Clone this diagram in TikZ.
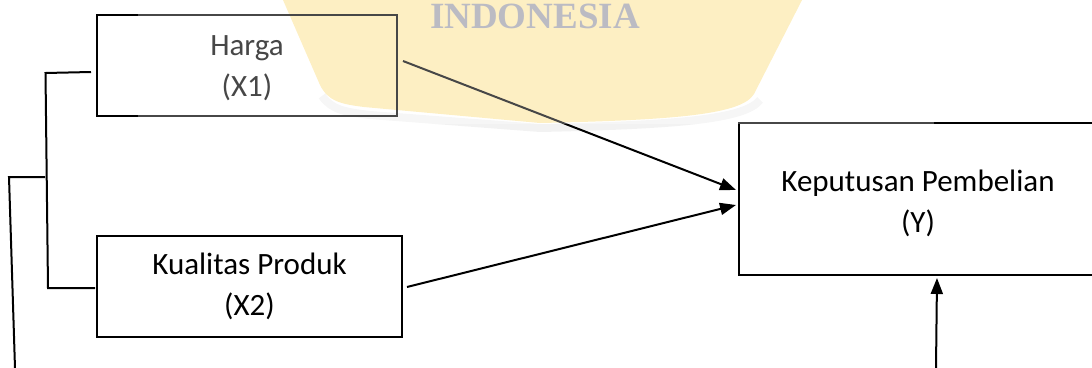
\documentclass[tikz,border=0pt]{standalone}
\usepackage{fontspec}
\setmainfont{Carlito}
\newfontfamily\wmfont{Liberation Serif}
\usetikzlibrary{arrows.meta,calc}
\definecolor{wmyellow}{RGB}{253,233,172}
\definecolor{wmgray}{RGB}{162,162,172}
\definecolor{wmshadow}{RGB}{150,150,150}
\begin{document}
\begin{tikzpicture}[x=1pt,y=-1pt,
  box/.style={draw=black,line width=2pt,align=center,inner sep=0pt,
    font=\fontsize{31}{41}\selectfont},
  conn/.style={line width=2pt,line join=miter},
  arr/.style={conn,-{Triangle[length=16pt,width=12pt]}},
  overlay/.style={fill=white,opacity=0.28},
]
\useasboundingbox (0,0) rectangle (1092,367);
\clip (0,0) rectangle (1092,367);
% watermark (background part)
\draw[wmshadow,opacity=0.12,line width=8pt]
  (322,96) .. controls (332,110) and (345,112) .. (370,115)
  -- (540,128) .. controls (680,125) and (745,119) .. (760,100);
\fill[wmyellow] (283,0) -- (320,85) .. controls (328,101) and (340,104) .. (364,107)
  -- (540,123) .. controls (680,120) and (742,114) .. (754,94) -- (802,0) -- cycle;
\node[font=\wmfont\bfseries\fontsize{37}{37}\selectfont,text=wmgray,inner sep=0pt,anchor=base]
  (wm) at (535,28) {INDONESIA};
% boxes
\node[box,minimum width=300pt,minimum height=101pt] (x1) at (247,65.5) {};
\node[box,minimum width=305pt,minimum height=101pt] (x2) at (249.5,286.5) {};
\node[box,minimum width=358pt,minimum height=152pt] (y) at (918,199) {};
\node[box,draw=none,anchor=center] (t1) at ($(x1.center)+(0,2.5)$) {Harga\\(X1)};
\node[box,draw=none,anchor=center] (t2) at ($(x2.center)+(0,0)$) {Kualitas Produk\\(X2)};
\node[box,draw=none,anchor=center] (t3) at ($(y.center)+(0,4.5)$) {Keputusan Pembelian\\(Y)};
% arrows
\draw[arr] ($(x1.east)+(5,-4.5)$) -- ($(y.west)+(-2,-9)$);
\draw[arr] ($(x2.east)+(4,0.5)$) -- ($(y.west)+(-2,6)$);
\coordinate (yb) at (936,368);
\draw[arr] (yb) -- ($(y.south)+(19,2)$);
% left bracket
\coordinate (b1) at (45.5,73);
\coordinate (b2) at (48,288);
\draw[conn] ($(x1.west)+(-5,6.5)$) -- (b1) -- (b2) -- ($(x2.west)+(-1,1.5)$);
\coordinate (m1) at (45,177);
\coordinate (m2) at (9,177);
\coordinate (m3) at (15,368);
\draw[conn] (m1) -- (m2) -- (m3);
% watermark (faint overlay part)
\fill[overlay] (138,0) rectangle (934,124);
\end{tikzpicture}
\end{document}
